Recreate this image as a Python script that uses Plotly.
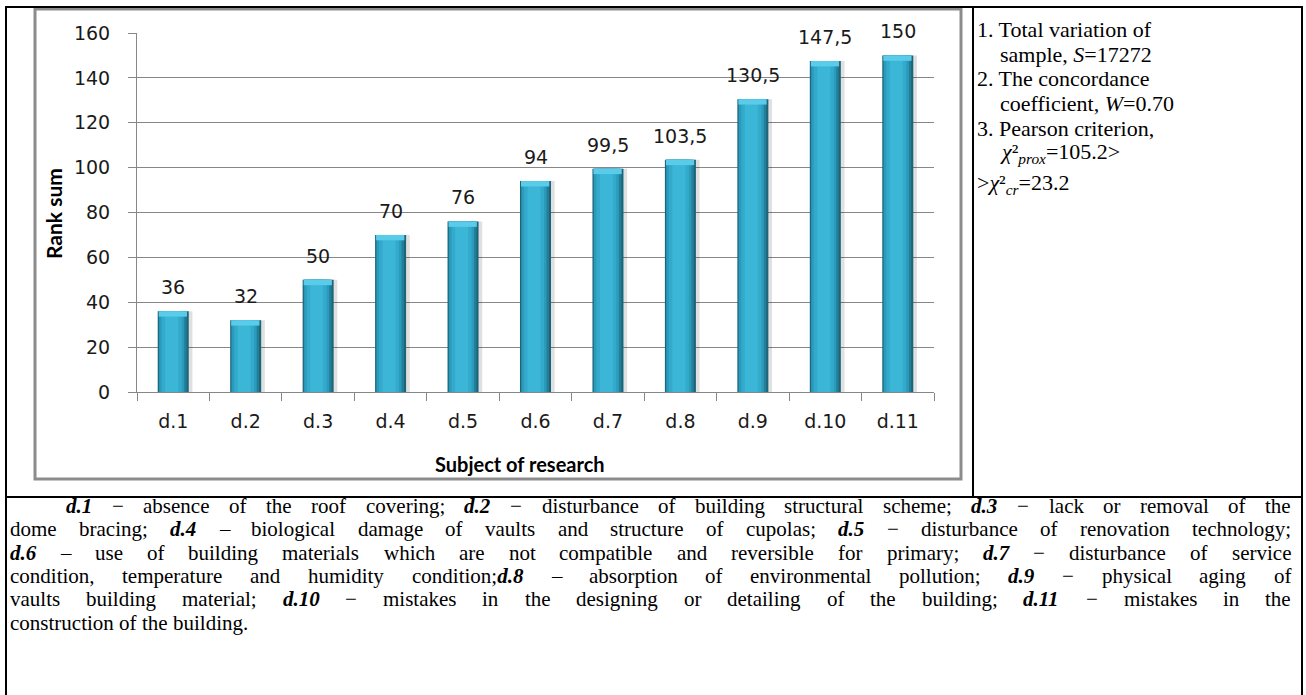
import re
import plotly.graph_objects as go

# ---------------- data ----------------
categories = ['d.1', 'd.2', 'd.3', 'd.4', 'd.5', 'd.6', 'd.7', 'd.8', 'd.9', 'd.10', 'd.11']
rank_sums = [36, 32, 50, 70, 76, 94, 99.5, 103.5, 130.5, 147.5, 150]
value_labels = ['36', '32', '50', '70', '76', '94', '99,5', '103,5', '130,5', '147,5', '150']
y_ticks = [0, 20, 40, 60, 80, 100, 120, 140, 160]
y_title = 'Rank sum'
x_title = 'Subject of research'

stats_lines = [
    '1. Total variation of',
    'sample, <i>S</i>=17272',
    '2. The concordance',
    'coefficient, <i>W</i>=0.70',
    '3. Pearson criterion,',
    '<i>χ</i>²<sub><i>prox</i></sub>=105.2>',
    '><i>χ</i>²<sub><i>cr</i></sub>=23.2',
]
stats_indent = [False, True, False, True, False, True, False]

notes_lines = [
    "*d.1* − absence of the roof covering; *d.2* − disturbance of building structural scheme; *d.3* − lack or removal of the",
    "dome bracing; *d.4* – biological damage of vaults and structure of cupolas; *d.5* − disturbance of renovation technology;",
    "*d.6* – use of building materials which are not compatible and reversible for primary; *d.7* − disturbance of service",
    "condition, temperature and humidity condition;*d.8* – absorption of environmental pollution; *d.9* − physical aging of",
    "vaults building material; *d.10* − mistakes in the designing or detailing of the building; *d.11* − mistakes in the",
    "construction of the building.",
]

# ---------------- geometry (pixels) ----------------
W_FIG, H_FIG = 1306, 695
L, R, T, B = 137, 934, 33, 392


def px(x):
    return (x - L) / (R - L)


def py(y):
    return (B - y) / (B - T)


fig = go.Figure()

# bars drawn as overlaid layers to imitate the shaded cylinder look
layers = [
    (0.47, -0.205, 'rgba(0,0,0,0.12)'),
    (0.428, -0.214, '#1B6479'),
    (0.386, -0.200, '#237E98'),
    (0.345, -0.193, '#2B9BBB'),
    (0.276, -0.159, '#33AACB'),
    (0.179, -0.110, '#3BB6D7'),
]
for w, off, col in layers:
    fig.add_trace(go.Bar(x=categories, y=rank_sums, width=w, offset=off,
                         marker=dict(color=col, line=dict(width=0)),
                         hoverinfo='skip', showlegend=False))

CAP = 2.4
fig.add_trace(go.Bar(x=categories, y=[CAP] * len(rank_sums),
                     base=[v - CAP for v in rank_sums],
                     width=0.39, offset=-0.200,
                     marker=dict(color='#5ACBE9', line=dict(width=0)),
                     hoverinfo='skip', showlegend=False))

# value labels
for c, v, t in zip(categories, rank_sums, value_labels):
    fig.add_annotation(x=c, y=v, xref='x', yref='y', text=t, yshift=24,
                       showarrow=False, xanchor='center',
                       font=dict(family='DejaVu Sans', size=19, color='#1a1a1a'))

GRID = '#878787'
fig.update_layout(
    width=W_FIG, height=H_FIG,
    margin=dict(l=L, r=W_FIG - R, t=T, b=H_FIG - B, pad=0),
    paper_bgcolor='white', plot_bgcolor='white',
    barmode='overlay', showlegend=False,
    xaxis=dict(type='category', showline=True, linecolor=GRID, linewidth=1,
               ticks='outside', tickson='boundaries', ticklen=8, tickcolor=GRID,
               showgrid=False, ticklabelstandoff=12,
               tickfont=dict(family='DejaVu Sans', size=19, color='#1a1a1a')),
    yaxis=dict(range=[0, 160], tickvals=y_ticks, showline=True, linecolor=GRID,
               linewidth=1, ticks='outside', ticklen=8, tickcolor=GRID,
               showgrid=True, gridcolor=GRID, gridwidth=1, zeroline=False,
               ticklabelstandoff=14,
               tickfont=dict(family='DejaVu Sans', size=19, color='#1a1a1a')),
)

# axis titles
fig.add_annotation(x=px(54), y=py(214), xref='paper', yref='paper', text=f'<b>{y_title}</b>',
                   textangle=-90, showarrow=False, xanchor='center', yanchor='middle',
                   font=dict(family='Lato', size=21, color='black'))
fig.add_annotation(x=px(520), y=py(464), xref='paper', yref='paper', text=f'<b>{x_title}</b>',
                   showarrow=False, xanchor='center', yanchor='middle',
                   font=dict(family='Lato', size=20, color='black'))

# chart frame and table borders
fig.add_shape(type='rect', xref='paper', yref='paper', x0=px(35), x1=px(961), y0=py(9), y1=py(479),
              line=dict(color='#8C8C8C', width=3))
BLK = dict(color='black', width=2)
for (x0, y0, x1, y1) in [(6, 7, 6, 700), (1302, 7, 1302, 700), (5, 7, 1303, 7),
                         (973, 7, 973, 497), (5, 497, 1303, 497)]:
    fig.add_shape(type='line', xref='paper', yref='paper', x0=px(x0), x1=px(x1),
                  y0=py(y0), y1=py(y1), line=BLK)

# right panel statistics
SER = 'Liberation Serif'
ST_SIZE = 22
stat_y = [30, 54.5, 79, 103.5, 128, 153, 184]
for txt, ind, y in zip(stats_lines, stats_indent, stat_y):
    fig.add_annotation(x=px(1000 if ind else 977), y=py(y),
                       xref='paper', yref='paper', text=txt,
                       xanchor='left', yanchor='middle', showarrow=False,
                       borderpad=0, borderwidth=0,
                       font=dict(family=SER, size=ST_SIZE, color='black'))

# bottom notes, justified word by word using Times metrics
TNR = {' ': 250, 'a': 444, 'b': 500, 'c': 444, 'd': 500, 'e': 444, 'f': 333, 'g': 500, 'h': 500,
       'i': 278, 'j': 278, 'k': 500, 'l': 278, 'm': 778, 'n': 500, 'o': 500, 'p': 500, 'q': 500,
       'r': 333, 's': 389, 't': 278, 'u': 500, 'v': 500, 'w': 722, 'x': 500, 'y': 500, 'z': 444,
       '.': 250, ',': 250, ';': 278, ':': 278, '−': 564, '–': 500, '-': 333}
NOTE_SIZE = 21
NOTE_LEFT, NOTE_INDENT, NOTE_RIGHT = 10, 66, 1291
NOTE_Y0, NOTE_DY = 506, 23.3


def parse_token(tok):
    html, width = '', 0
    for p in re.split(r'(\*[^*]+\*)', tok):
        if not p:
            continue
        if p.startswith('*'):
            t = p[1:-1]
            html += f'<b><i>{t}</i></b>'
        else:
            t = p
            html += t
        width += sum(TNR.get(ch, 500) for ch in t)
    return html, width * NOTE_SIZE / 1000


for i, line in enumerate(notes_lines):
    toks = [parse_token(t) for t in line.split(' ')]
    left = NOTE_INDENT if i == 0 else NOTE_LEFT
    total = sum(w for _, w in toks)
    last = i == len(notes_lines) - 1
    gap = NOTE_SIZE * 0.25 if last else (NOTE_RIGHT - left - total) / (len(toks) - 1)
    x = left
    yline = NOTE_Y0 + i * NOTE_DY
    for html, w in toks:
        fig.add_annotation(x=px(x), y=py(yline), xref='paper', yref='paper', text=html,
                           xanchor='left', yanchor='middle', showarrow=False,
                           borderpad=0, borderwidth=0,
                           font=dict(family=SER, size=NOTE_SIZE, color='black'))
        x += w + gap

fig.write_html('out.html', config={'displayModeBar': False},
               post_script="document.body.style.margin='0px';document.body.style.overflow='hidden';")
